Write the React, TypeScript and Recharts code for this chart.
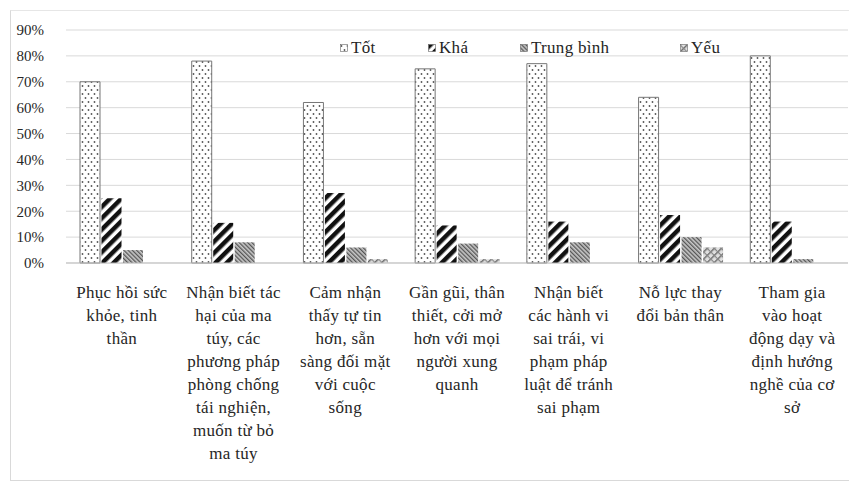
import React from "react";
import { BarChart, Bar, XAxis, YAxis, CartesianGrid } from "recharts";

const categories = [
  "Phục hồi sức\nkhỏe, tinh\nthần",
  "Nhận biết tác\nhại của ma\ntúy, các\nphương pháp\nphòng chống\ntái nghiện,\nmuốn từ bỏ\nma túy",
  "Cảm nhận\nthấy tự tin\nhơn, sẵn\nsàng đối mặt\nvới cuộc\nsống",
  "Gần gũi, thân\nthiết, cởi mở\nhơn với mọi\nngười xung\nquanh",
  "Nhận biết\ncác hành vi\nsai trái, vi\nphạm pháp\nluật để tránh\nsai phạm",
  "Nỗ lực thay\nđổi bản thân",
  "Tham gia\nvào hoạt\nđộng dạy và\nđịnh hướng\nnghề của cơ\nsở",
];

const tot = [0.7, 0.78, 0.62, 0.75, 0.77, 0.64, 0.8];
const kha = [0.25, 0.155, 0.27, 0.145, 0.16, 0.185, 0.16];
const trungBinh = [0.05, 0.08, 0.06, 0.075, 0.08, 0.1, 0.015];
const yeu = [0, 0, 0.015, 0.015, 0, 0.06, 0];

const seriesNames = ["Tốt", "Khá", "Trung bình", "Yếu"];
const yTicks = [0, 0.1, 0.2, 0.3, 0.4, 0.5, 0.6, 0.7, 0.8, 0.9];

const data = categories.map((name, i) => ({
  name,
  tot: tot[i],
  kha: kha[i],
  trungBinh: trungBinh[i],
  yeu: yeu[i],
}));

const FONT = "'Liberation Serif', 'DejaVu Serif', serif";
const fills = ["url(#pTot)", "url(#pKha)", "url(#pTb)", "url(#pYeu)"];

const XTick = (props: any) => {
  const { x, y, payload } = props;
  const lines = String(payload.value).split("\n");
  return (
    <text x={x} y={y} textAnchor="middle" fontFamily={FONT} fontSize={17} letterSpacing={0.3} fill="#262626">
      {lines.map((l, i) => (
        <tspan key={i} x={x} dy={i === 0 ? 35 : 23}>
          {l}
        </tspan>
      ))}
    </text>
  );
};

// legend positions
const legendLeft = [340, 428, 520, 680];

const LegendBox = () => (
  <div style={{ position: "absolute", left: 0, top: 38, height: 20, width: 849 }}>
    {seriesNames.map((n, i) => (
      <div
        key={n}
        style={{
          position: "absolute",
          left: legendLeft[i],
          top: 0,
          display: "flex",
          alignItems: "center",
          fontFamily: FONT,
          fontSize: 17,
          letterSpacing: 0.3,
          color: "#262626",
          whiteSpace: "nowrap",
        }}
      >
        <svg width={8} height={8} style={{ marginRight: 3 }}>
          <rect x={0.5} y={0.5} width={7} height={7} fill={fills[i]} stroke="#666" strokeWidth={0.6} />
        </svg>
        {n}
      </div>
    ))}
  </div>
);

export default function App() {
  return (
    <div style={{ position: "absolute", left: 0, top: 0, width: 849, height: 485, background: "#fff", overflow: "hidden" }}>
      <svg width={0} height={0} style={{ position: "absolute" }}>
        <defs>
          <pattern id="pTot" patternUnits="userSpaceOnUse" width={6} height={8}>
            <rect width={6} height={8} fill="#fff" />
            <circle cx={1.5} cy={2} r={0.9} fill="#555" />
            <circle cx={4.5} cy={6} r={0.9} fill="#555" />
          </pattern>
          <pattern id="pKha" patternUnits="userSpaceOnUse" width={8} height={8} patternTransform="rotate(45)">
            <rect width={8} height={8} fill="#fff" />
            <rect width={4.5} height={8} fill="#111" />
          </pattern>
          <pattern id="pTb" patternUnits="userSpaceOnUse" width={3} height={3} patternTransform="rotate(-45)">
            <rect width={3} height={3} fill="#c8c8c8" />
            <rect width={1.3} height={3} fill="#555" />
          </pattern>
          <pattern id="pYeu" patternUnits="userSpaceOnUse" width={5} height={5} patternTransform="rotate(45)">
            <rect width={5} height={5} fill="#e0e0e0" />
            <rect width={1.4} height={5} fill="#666" />
            <rect width={5} height={1.2} fill="#888" />
          </pattern>
        </defs>
      </svg>
      <div
        style={{
          position: "absolute",
          left: 10,
          top: 10,
          width: 845,
          height: 469,
          borderLeft: "1px solid #d9d9d9",
          borderTop: "1px solid #e6e6e6",
          borderBottom: "1px solid #d9d9d9",
        }}
      />
      <div style={{ position: "absolute", left: 0, top: 0 }}>
        <BarChart
          width={849}
          height={485}
          data={data}
          margin={{ top: 30, right: 1, bottom: 10, left: 0 }}
          barSize={20}
          barGap={1.5}
        >
          <CartesianGrid vertical={false} stroke="#d9d9d9" />
          <XAxis
            dataKey="name"
            interval={0}
            height={212}
            tickLine={false}
            tickSize={0}
            tickMargin={0}
            stroke="#bfbfbf"
            tick={<XTick />}
          />
          <YAxis
            width={66}
            domain={[0, 0.9]}
            ticks={yTicks}
            axisLine={false}
            tickLine={false}
            tickSize={0}
            tickMargin={22}
            tickFormatter={(v: number) => `${Math.round(v * 100)}%`}
            tick={{ fontFamily: FONT, fontSize: 15, fill: "#262626" }}
          />
          <Bar dataKey="tot" name={seriesNames[0]} fill={fills[0]} stroke="#777" strokeWidth={1} isAnimationActive={false} />
          <Bar dataKey="kha" name={seriesNames[1]} fill={fills[1]} isAnimationActive={false} />
          <Bar dataKey="trungBinh" name={seriesNames[2]} fill={fills[2]} isAnimationActive={false} />
          <Bar dataKey="yeu" name={seriesNames[3]} fill={fills[3]} isAnimationActive={false} />
        </BarChart>
      </div>
      <LegendBox />
    </div>
  );
}
